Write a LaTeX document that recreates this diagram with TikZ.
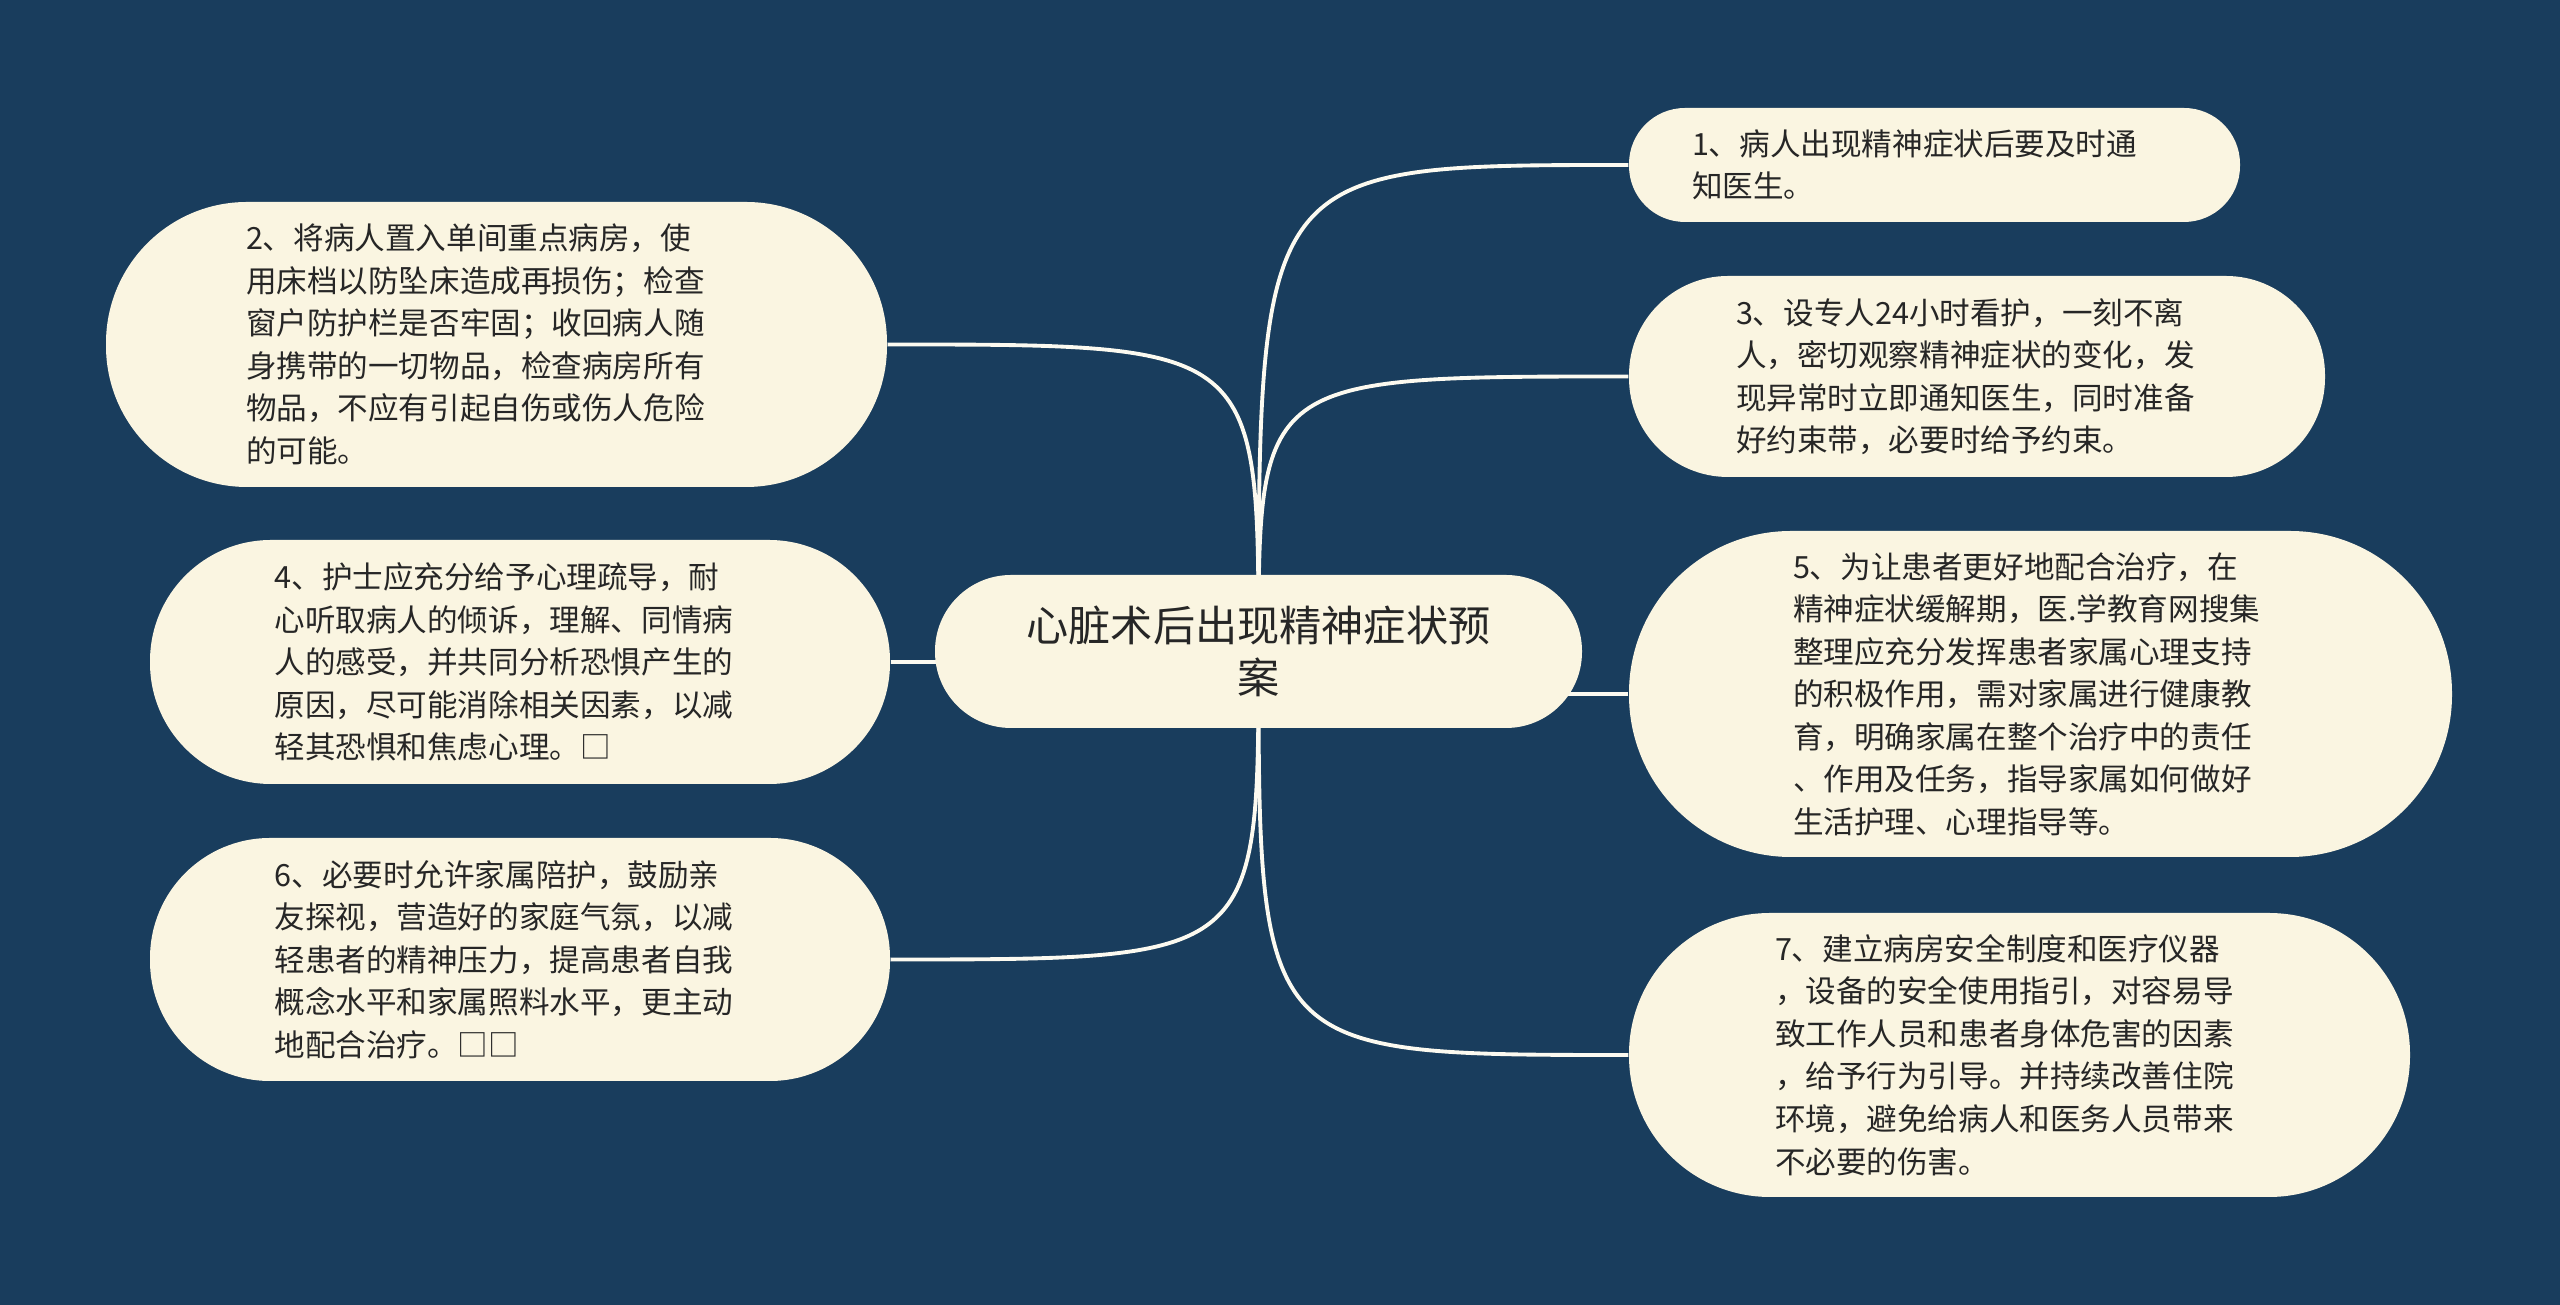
\documentclass[tikz,border=0pt]{standalone}
\usepackage{fontspec}
\setmainfont{Noto Sans CJK SC}
\usetikzlibrary{backgrounds}
\definecolor{mapnavy}{RGB}{25,61,93}
\definecolor{mapcream}{RGB}{250,245,225}
\definecolor{maptext}{RGB}{38,38,38}
\definecolor{mapline}{RGB}{252,250,240}

\begin{document}
\begin{tikzpicture}[
  leaf/.style={fill=mapcream, text=maptext, align=left, inner sep=0pt,
    text width=4.9cm, font=\fontsize{8.7pt}{12.1pt}\selectfont},
  hubnode/.style={fill=mapcream, text=maptext, align=center, inner sep=0pt,
    font=\fontsize{12pt}{14.8pt}\selectfont},
  link/.style={mapline, line width=1.1pt}
]
% central topic
\node[hubnode, minimum width=6.47cm, minimum height=1.53cm, rounded corners=0.76cm] (hub) at (12.585,6.535) {心脏术后出现精神症状预\\案};

% right branch
\node[leaf, text width=4.85cm, minimum width=6.11cm, minimum height=1.14cm, rounded corners=0.56cm] (n1) at (19.345,11.40) {1、病人出现精神症状后要及时通\\知医生。};
\node[leaf, text width=4.82cm, minimum width=6.96cm, minimum height=2.01cm, rounded corners=0.99cm] (n3) at (19.77,9.285) {3、设专人24小时看护，一刻不离\\人，密切观察精神症状的变化，发\\现异常时立即通知医生，同时准备\\好约束带，必要时给予约束。};
\node[leaf, text width=4.95cm, minimum width=8.23cm, minimum height=3.26cm, rounded corners=1.62cm] (n5) at (20.405,6.11) {5、为让患者更好地配合治疗，在\\精神症状缓解期，医.学教育网搜集\\整理应充分发挥患者家属心理支持\\的积极作用，需对家属进行健康教\\育，明确家属在整个治疗中的责任\\、作用及任务，指导家属如何做好\\生活护理、心理指导等。};
\node[leaf, text width=4.89cm, minimum width=7.81cm, minimum height=2.84cm, rounded corners=1.41cm] (n7) at (20.195,2.50) {7、建立病房安全制度和医疗仪器\\，设备的安全使用指引，对容易导\\致工作人员和患者身体危害的因素\\，给予行为引导。并持续改善住院\\环境，避免给病人和医务人员带来\\不必要的伤害。};

% left branch
\node[leaf, text width=5.01cm, minimum width=7.81cm, minimum height=2.85cm, rounded corners=1.41cm] (n2) at (4.965,9.605) {2、将病人置入单间重点病房，使\\用床档以防坠床造成再损伤；检查\\窗户防护栏是否牢固；收回病人随\\身携带的一切物品，检查病房所有\\物品，不应有引起自伤或伤人危险\\的可能。};
\node[leaf, text width=4.91cm, minimum width=7.40cm, minimum height=2.44cm, rounded corners=1.21cm] (n4) at (5.20,6.43) {4、护士应充分给予心理疏导，耐\\心听取病人的倾诉，理解、同情病\\人的感受，并共同分析恐惧产生的\\原因，尽可能消除相关因素，以减\\轻其恐惧和焦虑心理。□};
\node[leaf, text width=4.91cm, minimum width=7.40cm, minimum height=2.43cm, rounded corners=1.20cm] (n6) at (5.20,3.455) {6、必要时允许家属陪护，鼓励亲\\友探视，营造好的家庭气氛，以减\\轻患者的精神压力，提高患者自我\\概念水平和家属照料水平，更主动\\地配合治疗。□□};

% background and links behind the boxes
\begin{scope}[on background layer]
\fill[mapnavy] (0,0) rectangle (25.6,13.05);
\draw[link] (hub.center) .. controls (hub.center |- n1.west) .. (n1.west);
\draw[link] (hub.center) .. controls (hub.center |- n3.west) .. (n3.west);
\draw[link] (n5.west) -- (n5.west -| hub.center);
\draw[link] (hub.center) .. controls (hub.center |- n7.west) .. (n7.west);
\draw[link] (hub.center) .. controls (hub.center |- n2.east) .. (n2.east);
\draw[link] (n4.east) -- (n4.east -| hub.center);
\draw[link] (hub.center) .. controls (hub.center |- n6.east) .. (n6.east);
\end{scope}
\end{tikzpicture}
\end{document}
